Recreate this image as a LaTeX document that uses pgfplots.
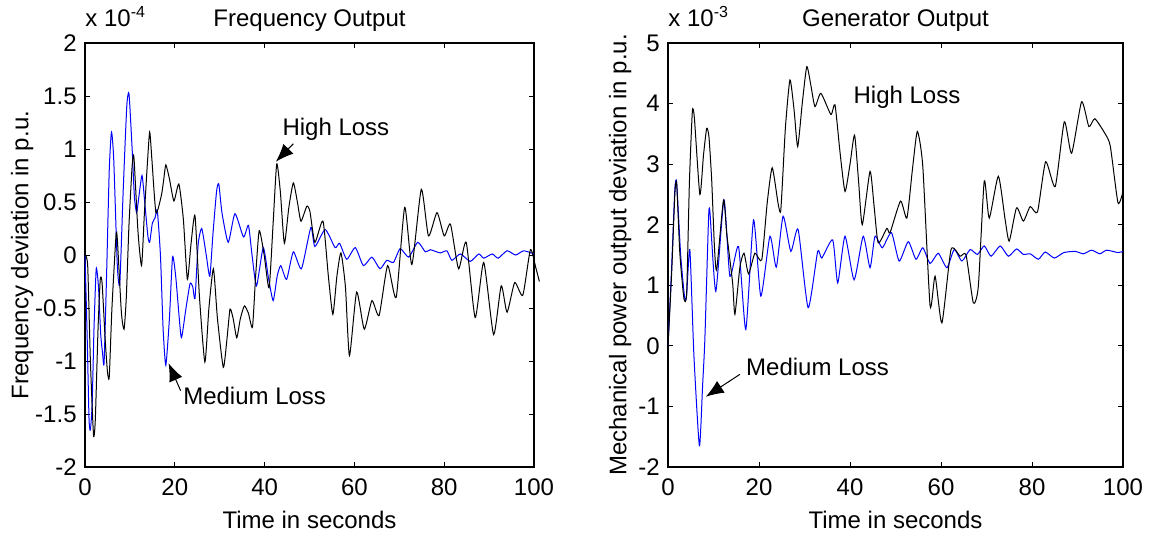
\documentclass[border=0pt]{standalone}
\usepackage{pgfplots}
\pgfplotsset{compat=1.18}
\usepackage{fontspec}
\setmainfont{Liberation Sans}
\usetikzlibrary{arrows.meta}

\pgfplotstableread{
t v
0 0
0.5 -0.8
0.9 -1.55
1.2 -1.65
1.6 -1.4
2.0 -0.7
2.5 -0.13
3.0 -0.3
3.5 -0.75
3.9 -0.92
4.25 -1.02
4.8 -0.2
5.4 0.8
5.9 1.16
6.4 0.9
7.2 -0.1
7.75 -0.27
8.5 0.6
9.3 1.4
9.8 1.52
10.5 1.0
11.0 0.55
11.5 0.40
12.0 0.55
12.7 0.75
13.3 0.5
14.0 0.18
14.4 0.12
15.0 0.3
15.6 0.35
16.1 0.42
16.8 0.0
17.4 -0.7
18.0 -1.04
18.8 -0.6
19.5 -0.02
20.2 -0.2
21.0 -0.6
21.5 -0.78
22.5 -0.5
23.4 -0.27
24.0 -0.3
24.5 -0.41
25.2 0.1
26.0 0.25
27.0 0.0
27.8 -0.20
28.5 0.2
29.3 0.6
29.8 0.67
30.5 0.4
31.9 0.12
33.4 0.39
35.3 0.17
36.4 0.28
37.2 0.0
38.2 -0.29
39.7 0.07
40.8 -0.2
41.9 -0.43
42.8 -0.2
43.6 -0.10
44.9 -0.23
46.4 0.03
48.2 -0.13
50.3 0.26
51.2 0.08
53.5 0.24
55.7 0.07
56.7 0.11
58.3 -0.04
60.2 0.07
62.0 -0.10
63.9 -0.02
65.7 -0.13
67.2 -0.05
68.7 -0.07
70.2 0.06
72.1 -0.02
74.1 0.12
75.8 0.03
76.9 0.05
79.1 0.02
80.6 0.04
81.7 -0.05
83.6 0.01
85.8 -0.06
87.7 0.01
88.8 -0.03
90.7 0.01
92.0 -0.03
94.0 0.04
95.9 0.0
97.7 0.04
100 0.01
}\freqmed

\pgfplotstableread{
t v
0 0
0.6 -0.1
1.2 -1.0
1.9 -1.7
2.3 -1.55
2.9 -0.7
3.4 -0.23
3.8 -0.26
4.5 -0.8
5.0 -1.1
5.4 -1.15
6.0 -0.5
6.9 0.18
7.2 0.15
8.1 -0.54
8.7 -0.70
9.2 -0.4
9.8 0.29
10.5 0.84
10.9 0.92
11.8 0.22
12.6 -0.10
13.2 0.37
13.8 0.8
14.4 1.16
14.9 0.9
15.8 0.40
17.0 0.56
17.5 0.7
18.0 0.85
18.8 0.72
19.8 0.51
20.9 0.67
21.9 0.34
22.8 -0.23
23.6 0.1
24.5 0.37
25.5 -0.4
26.7 -1.01
27.6 -0.5
28.6 -0.13
29.5 -0.6
30.8 -1.06
31.6 -0.8
32.3 -0.51
33.0 -0.6
33.8 -0.78
34.6 -0.6
35.5 -0.48
36.4 -0.55
37.3 -0.68
38.0 -0.2
38.8 0.23
39.9 0.0
41.0 -0.31
41.9 0.3
42.7 0.86
43.5 0.6
44.4 0.11
45.4 0.45
46.4 0.68
47.3 0.5
48.1 0.32
49.4 0.46
50.1 0.41
51.2 0.12
53.0 0.32
54.2 -0.2
55.2 -0.56
56.1 -0.2
57.0 0.02
58.0 -0.3
58.9 -0.95
60.5 -0.35
62.2 -0.70
63.9 -0.43
65.5 -0.57
67.4 -0.10
69.3 -0.40
71.2 0.45
72.8 -0.09
74.9 0.62
76.5 0.18
78.4 0.40
80.0 0.18
81.4 0.29
83.2 -0.13
84.9 0.12
86.9 -0.59
88.8 -0.07
91.0 -0.75
92.7 -0.29
94.0 -0.54
95.7 -0.26
97.5 -0.38
99.2 0.05
100.4 -0.12
101.2 -0.25
}\freqhigh

\pgfplotstableread{
t v
0 0
0.8 1.3
1.5 2.58
1.9 2.69
2.8 1.48
3.7 0.77
4.1 0.85
4.8 1.59
5.7 -0.17
6.9 -1.65
7.6 -0.66
8.1 0.11
8.9 2.08
9.2 2.22
10.5 0.90
12.3 2.41
13.6 1.15
15.5 1.64
17.1 0.27
18.8 2.08
20.4 0.82
22.4 1.81
23.8 1.3
25.3 2.14
27.0 1.56
28.6 1.92
30.8 0.63
32.9 1.56
33.8 1.45
36.2 1.75
37.3 1.04
38.9 1.81
40.9 1.09
42.9 1.81
44.4 1.29
45.5 1.81
47.1 1.62
49.1 1.87
50.8 1.40
52.8 1.72
54.5 1.43
56.0 1.62
57.6 1.36
59.4 1.53
61.3 1.29
62.9 1.59
64.6 1.40
66.4 1.59
68.0 1.51
69.5 1.65
71.0 1.48
73.0 1.65
74.8 1.48
76.6 1.60
78.1 1.51
79.6 1.52
81.4 1.43
82.9 1.55
84.9 1.45
87.0 1.54
89.5 1.56
91.3 1.52
93.1 1.58
94.9 1.52
96.4 1.58
98.9 1.54
100 1.56
}\genmed

\pgfplotstableread{
t v
0 0
0.8 1.2
1.5 2.5
1.9 2.69
2.6 1.53
3.5 0.78
4.1 0.87
4.7 2.69
5.35 3.87
5.8 3.76
7.0 2.50
7.8 3.15
8.5 3.59
9.0 3.45
9.6 2.74
10.2 1.64
10.7 1.26
12.2 2.41
12.9 1.86
14.2 1.04
14.7 0.52
15.8 1.30
16.7 1.53
17.7 1.19
19.1 1.53
20.6 1.42
21.8 2.36
22.9 2.94
24.2 2.35
24.8 2.25
25.8 3.6
26.8 4.39
27.7 3.9
28.5 3.29
29.5 4.0
30.5 4.61
31.4 4.3
32.3 3.95
33.6 4.17
35.8 3.82
36.7 3.98
37.8 3.2
38.9 2.55
40.0 3.0
41.0 3.48
41.9 2.7
42.7 2.00
44.4 2.88
45.3 2.3
46.2 1.70
48.1 1.94
48.8 1.87
51.1 2.39
52.5 2.11
53.7 2.9
54.8 3.54
56.0 2.96
57.6 0.66
58.7 1.15
60.2 0.38
62.2 1.59
64.2 1.48
65.5 1.5
67.1 0.71
68.2 0.98
69.5 2.72
70.6 2.11
72.6 2.80
74.1 2.08
75.0 1.73
76.6 2.28
78.1 2.06
79.6 2.30
81.2 2.21
83.0 3.04
85.1 2.63
87.1 3.70
88.7 3.18
90.9 4.03
92.5 3.62
93.8 3.75
96.0 3.51
97.2 3.3
98.9 2.36
100 2.55
}\genhigh

\begin{document}
\fontsize{12}{14}\selectfont
\begin{tikzpicture}
\pgfplotsset{
  matlab/.style={
    scale only axis, height=212pt,
    xmin=0, xmax=100,
    xtick={0,20,40,60,80,100}, xticklabels={0,20,40,60,80,100},
    tick align=inside, tick pos=both, major tick length=2.5pt,
    axis line style={line width=0.6pt},
    every tick/.style={black, line width=0.5pt},
    ticklabel style={font=\fontsize{12}{14}\selectfont},
    xticklabel style={yshift=-1.5pt},
    label style={font=\fontsize{12}{14}\selectfont},
    every axis title shift=0pt,
    title style={font=\fontsize{12}{14}\selectfont, at={(axis description cs:0.5,1)}, anchor=base, yshift=8.5pt},
    xlabel={Time in seconds},
    xlabel style={at={(axis description cs:0.5,-0.125)}, anchor=center},
    every axis plot/.append style={line width=0.5pt, smooth, tension=0.35},
  },
}
\begin{axis}[matlab,
  at={(42.5pt,35.5pt)}, anchor=south west, width=224.5pt,
  ymin=-2, ymax=2,
  ytick={-2,-1.5,-1,-0.5,0,0.5,1,1.5,2},
  yticklabels={-2,-1.5,-1,-0.5,0,0.5,1,1.5,2},
  title={Frequency Output},
  ylabel={Frequency deviation in p.u.},
  ylabel style={at={(axis description cs:-0.14,0.5)}, anchor=center},
  clip=false]
\addplot[blue] table {\freqmed};
\addplot[black] table {\freqhigh};
\node[anchor=base west, inner sep=0pt] at (axis description cs:0,1) [yshift=8.5pt] {x 10\textsuperscript{-4}};
\node[anchor=west, inner sep=0pt] at (axis cs:43.9,1.19) {High Loss};
\draw[-{Latex[length=9pt,width=7pt]}, line width=0.5pt] (axis cs:46.4,1.05) -- (axis cs:42.5,0.88);
\node[anchor=west, inner sep=0pt] at (axis cs:21.8,-1.33) {Medium Loss};
\draw[-{Latex[length=9pt,width=7pt]}, line width=0.5pt] (axis cs:21.3,-1.28) -- (axis cs:18.6,-1.02);
\end{axis}

\begin{axis}[matlab,
  at={(334pt,35.5pt)}, anchor=south west, width=227.5pt,
  ymin=-2, ymax=5,
  ytick={-2,-1,0,1,2,3,4,5},
  yticklabels={-2,-1,0,1,2,3,4,5},
  title={Generator Output},
  ylabel={Mechanical power output deviation in p.u.},
  ylabel style={at={(axis description cs:-0.105,0.5)}, anchor=center},
  clip mode=individual]
\addplot[blue] table {\genmed};
\addplot[black] table {\genhigh};
\node[anchor=base west, inner sep=0pt] at (axis description cs:0,1) [yshift=8.5pt] {x 10\textsuperscript{-3}};
\node[anchor=west, inner sep=0pt] at (axis cs:40.7,4.11) {High Loss};
\node[anchor=west, inner sep=0pt] at (axis cs:17.1,-0.34) {Medium Loss};
\draw[-{Latex[length=9pt,width=7pt]}, line width=0.5pt] (axis cs:15.8,-0.47) -- (axis cs:8.3,-0.84);
\end{axis}
\pgfresetboundingbox
\useasboundingbox (0,0) rectangle (577.5pt,269pt);
\end{tikzpicture}
\end{document}
